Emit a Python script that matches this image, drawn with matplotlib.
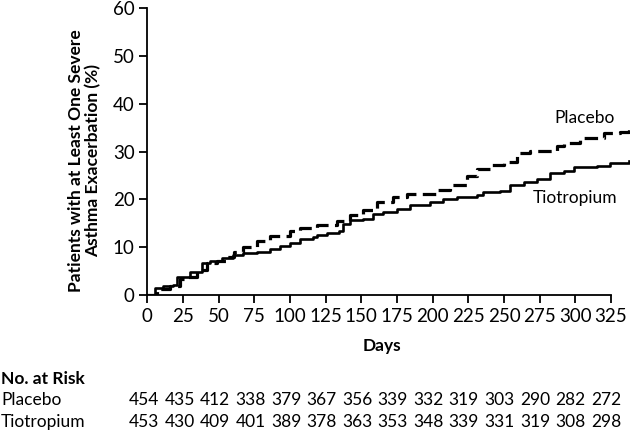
import matplotlib.pyplot as plt

plt.rcParams['font.family'] = ['Lato', 'DejaVu Sans']

# Kaplan-Meier style cumulative curves
placebo_days = [0, 6.5, 16, 23, 28, 35, 42, 49, 56, 61, 67, 77, 86, 100, 107, 119, 133,
                142, 151, 161, 172, 182, 203, 212, 224, 231, 240, 250, 259, 268, 287,
                292, 303, 320, 331, 337.6]
placebo_pct = [0, 1.2, 1.9, 3.3, 3.8, 5.2, 6.6, 7.1, 8.0, 8.9, 10.1, 11.4, 12.4, 13.3, 14.0,
               14.7, 15.4, 16.7, 17.8, 19.5, 20.6, 21.1, 22.0, 23.0, 24.8, 26.4, 27.2,
               27.8, 29.7, 30.1, 31.1, 31.9, 32.8, 33.8, 34.2, 34.9]
tio_days = [0, 5.4, 11, 18, 20.6, 30, 38, 44, 52, 60, 67, 77, 86, 93, 100, 107, 116, 119,
            126, 134, 137, 142, 151, 158, 165, 175, 184, 198, 207, 217, 231, 235, 247,
            254, 264, 273, 282, 292, 299, 315, 324, 337.6]
tio_pct = [0, 1.4, 1.9, 2.1, 3.8, 4.9, 6.6, 7.1, 7.7, 8.4, 8.7, 9.1, 9.6, 10.3, 10.8, 11.7,
           12.1, 12.6, 12.9, 13.3, 14.9, 15.7, 16.0, 16.9, 17.4, 18.1, 18.8, 19.5, 20.0,
           20.6, 20.9, 21.6, 21.8, 23.0, 23.7, 24.3, 25.5, 26.0, 26.7, 26.9, 27.6, 28.1]

x_ticks = list(range(0, 326, 25))
y_ticks = list(range(0, 61, 10))
risk_placebo = [454, 435, 412, 338, 379, 367, 356, 339, 332, 319, 303, 290, 282, 272]
risk_tio = [453, 430, 409, 401, 389, 378, 363, 353, 348, 339, 331, 319, 308, 298]

W, H = 633, 433
fig = plt.figure(figsize=(W / 100, H / 100), dpi=100)

x_max = 338
ax = fig.add_axes([147.3 / W, 1 - 295 / H, (629.6 - 147.3) / W, (295 - 8.3) / H])

ax.step(placebo_days, placebo_pct, where='post', color='black', lw=2.3,
        linestyle=(0, (4.2, 2.0)))
ax.step(tio_days, tio_pct, where='post', color='black', lw=1.9)

ax.set_xlim(0, x_max)
ax.set_ylim(0, 60)
ax.set_xticks(x_ticks)
ax.set_yticks(y_ticks)
ax.spines['top'].set_visible(False)
ax.spines['right'].set_visible(False)
ax.spines['bottom'].set_bounds(0, 325)
for s in ('left', 'bottom'):
    ax.spines[s].set_linewidth(1.3)
ax.tick_params(width=1.3, length=6, labelsize=13.5, pad=3)

ax.set_xlabel('Days', fontsize=12.5, fontweight='bold')
ax.xaxis.set_label_coords((382 - 147.3) / (629.6 - 147.3), -(346 - 295) / (295 - 8.3))
ax.xaxis.label.set_va('center')
ax.set_ylabel('Patients with at Least One Severe\nAsthma Exacerbation (%)',
              fontsize=12.5, fontweight='bold', linespacing=1.1)
ax.yaxis.set_label_coords(-(147.3 - 85) / (629.6 - 147.3), 0.47)
ax.yaxis.label.set_va('center')

ax.text(306.7, 37.0, 'Placebo', fontsize=12.5, ha='center', va='center')
ax.text(300, 20.3, 'Tiotropium', fontsize=12.5, ha='center', va='center')

# number at risk table
fig.text(1 / W, 1 - 379 / H, 'No. at Risk', fontsize=12.5, fontweight='bold', va='center')
fig.text(1 / W, 1 - 400 / H, 'Placebo', fontsize=12.5, va='center')
fig.text(1 / W, 1 - 422 / H, 'Tiotropium', fontsize=12.5, va='center')
for i, (p, t) in enumerate(zip(risk_placebo, risk_tio)):
    xp = (144 + i * 35.54) / W
    fig.text(xp, 1 - 400 / H, str(p), fontsize=12.5, ha='center', va='center')
    fig.text(xp, 1 - 422 / H, str(t), fontsize=12.5, ha='center', va='center')

fig.savefig('out.png', dpi=100)
